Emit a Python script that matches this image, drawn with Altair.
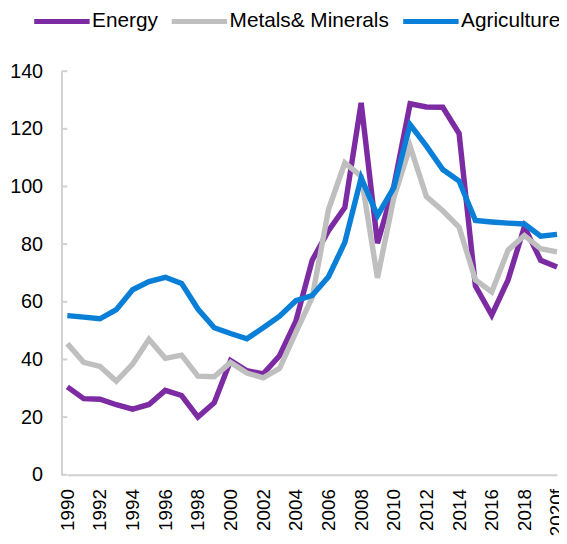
import altair as alt
import pandas as pd

years = list(range(1990, 2021))
energy = [30.5, 26.4, 26.2, 24.3, 22.8, 24.4, 29.3, 27.5, 20.0, 25.0, 39.6, 36.1, 35.0, 41.3, 53.3,
          74.4, 84.7, 92.7, 129.0, 80.3, 100.0, 128.7, 127.6, 127.5, 118.4, 65.5, 55.4, 67.6, 86.0, 74.4, 72.1]
metals = [45.5, 39.0, 37.6, 32.5, 38.4, 47.0, 40.4, 41.5, 34.2, 34.0, 39.0, 35.3, 33.6, 36.9, 49.4,
          61.5, 92.0, 108.2, 103.6, 68.3, 96.0, 113.9, 96.5, 91.6, 85.9, 67.6, 63.4, 77.9, 83.0, 78.4, 77.3]
agri = [55.2, 54.7, 54.1, 57.3, 64.2, 67.0, 68.5, 66.4, 57.5, 51.0, 49.0, 47.2, 51.0, 55.0, 60.4,
        62.2, 68.7, 80.6, 103.0, 89.9, 99.6, 121.5, 114.0, 105.9, 101.9, 88.2, 87.7, 87.3, 87.0, 82.8, 83.4]
series = ["Energy", "Metals& Minerals", "Agriculture"]
colors = ["#7D2BA3", "#BFBFBF", "#0A7FD7"]
x_ticks = list(range(1990, 2021, 2))
y_ticks = list(range(0, 141, 20))

rows = []
for name, vals in zip(series, [energy, metals, agri]):
    for y, v in zip(years, vals):
        rows.append({"year": y, "value": v, "series": name})
df = pd.DataFrame(rows)
ticks_df = pd.DataFrame({"t": y_ticks})

FONT = "Liberation Sans"

x_enc = alt.X("year:Q",
              scale=alt.Scale(domain=[1990, 2020], range=[6, 501], nice=False, zero=False),
              axis=alt.Axis(values=x_ticks, format="d", labelAngle=270, labelAlign="right",
                            labelBaseline="middle", labelPadding=14, ticks=False,
                            labelExpr="datum.value == 2020 ? '2020f' : datum.label",
                            domainColor="#D0D0D0", domainWidth=2, grid=False, title=None,
                            labelFontSize=19, labelFont=FONT, labelColor="#000000",
                            labelOverlap=False, labelFlush=False))

y_scale = alt.Scale(domain=[0, 140], nice=False)

lines = alt.Chart(df).mark_line(strokeWidth=5.5, strokeJoin="miter").encode(
    x=x_enc,
    y=alt.Y("value:Q", scale=y_scale,
            axis=alt.Axis(values=y_ticks, ticks=False, labelPadding=19, grid=False, title=None,
                          domainColor="#D0D0D0", domainWidth=2,
                          labelFontSize=20, labelFont=FONT, labelColor="#000000")),
    color=alt.Color("series:N", scale=alt.Scale(domain=series, range=colors),
                    legend=alt.Legend(orient="none", direction="horizontal", title=None,
                                      legendX=-30, legendY=-81,
                                      symbolType="stroke", symbolSize=3136, symbolStrokeWidth=5,
                                      labelFontSize=21, labelFont=FONT, labelColor="#000000",
                                      labelLimit=400,
                                      labelOffset=0, columnPadding=3, padding=0)),
    order=alt.value(0),
)

tick_marks = alt.Chart(ticks_df).mark_rule(color="#D0D0D0", strokeWidth=2).encode(
    y=alt.Y("t:Q", scale=y_scale),
    x=alt.value(0), x2=alt.value(6),
)

chart = alt.layer(tick_marks, lines).properties(
    width=503, height=408, autosize="none",
    padding={"left": 54, "top": 61, "right": 0, "bottom": 59},
).configure_view(stroke=None)

chart.save("out.html", embed_options={"renderer": "svg", "actions": False})
